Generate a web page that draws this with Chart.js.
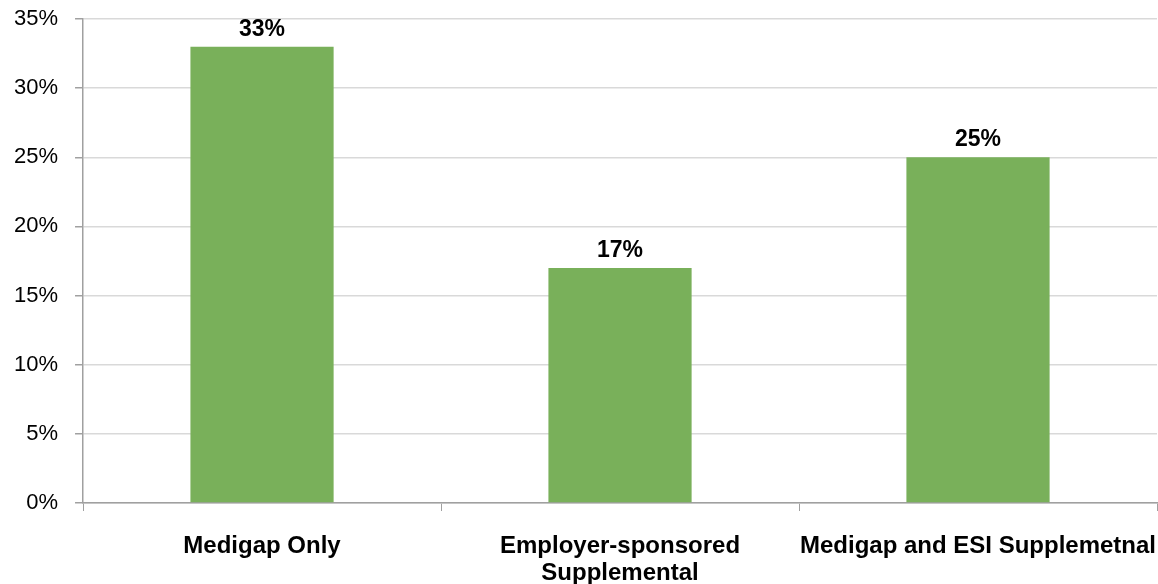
<!DOCTYPE html>
<html>
<head>
<meta charset="utf-8">
<script src="https://cdn.jsdelivr.net/npm/chart.js@4/dist/chart.umd.min.js"></script>
<style>
  html, body { margin: 0; padding: 0; background: #fff; }
  #wrap { width: 1158px; height: 584px; position: relative; }
</style>
</head>
<body>
<div id="wrap"><canvas id="chart"></canvas></div>
<script>
// ===== DATA =====
const categories = ['Medigap Only', ['Employer-sponsored', 'Supplemental'], 'Medigap and ESI Supplemetnal'];
const shares = [33, 17, 25];
const yTicks = [0, 5, 10, 15, 20, 25, 30, 35];

const green = '#79B05A';
const font = "'Liberation Sans', Arial, sans-serif";

// value labels on top of bars
const barLabels = {
  id: 'barLabels',
  afterDatasetsDraw(chart) {
    const ctx = chart.ctx;
    const meta = chart.getDatasetMeta(0);
    ctx.save();
    ctx.font = 'bold 23px ' + font;
    ctx.fillStyle = '#000';
    ctx.textAlign = 'center';
    ctx.textBaseline = 'alphabetic';
    meta.data.forEach((bar, i) => {
      ctx.fillText(shares[i] + '%', bar.x, bar.y - 11);
    });
    ctx.restore();
  }
};

new Chart(document.getElementById('chart'), {
  type: 'bar',
  data: {
    labels: categories,
    datasets: [{
      data: shares,
      backgroundColor: green,
      borderWidth: 0,
      barPercentage: 0.8,
      categoryPercentage: 0.5
    }]
  },
  options: {
    responsive: true,
    maintainAspectRatio: false,
    animation: false,
    layout: { padding: { top: 0, right: 1, left: 14, bottom: 0 } },
    plugins: { legend: { display: false }, tooltip: { enabled: false } },
    scales: {
      x: {
        afterFit(axis) { axis.paddingLeft = 0; axis.paddingRight = 0; axis.height = 81; },
        grid: { drawOnChartArea: false, drawTicks: true, tickLength: 8, color: '#a0a0a0', offset: true },
        border: { color: '#a0a0a0', width: 1.5 },
        ticks: { color: '#000', font: { family: font, size: 24, weight: 'bold', lineHeight: 1.12 }, padding: 22, maxRotation: 0, autoSkip: false }
      },
      y: {
        min: 0,
        max: 35,
        afterBuildTicks(axis) { axis.ticks = yTicks.map(v => ({ value: v })); },
        afterFit(axis) { axis.paddingTop = 19; axis.paddingBottom = 0; axis.width -= 17; },
        grid: { color: '#d9d9d9', tickLength: 8, lineWidth: 1.5, tickColor: '#a0a0a0' },
        border: { color: '#a0a0a0', width: 1.5 },
        ticks: { color: '#000', font: { family: font, size: 22 }, padding: 17, callback: v => v + '%' }
      }
    }
  },
  plugins: [barLabels]
});
</script>
</body>
</html>
